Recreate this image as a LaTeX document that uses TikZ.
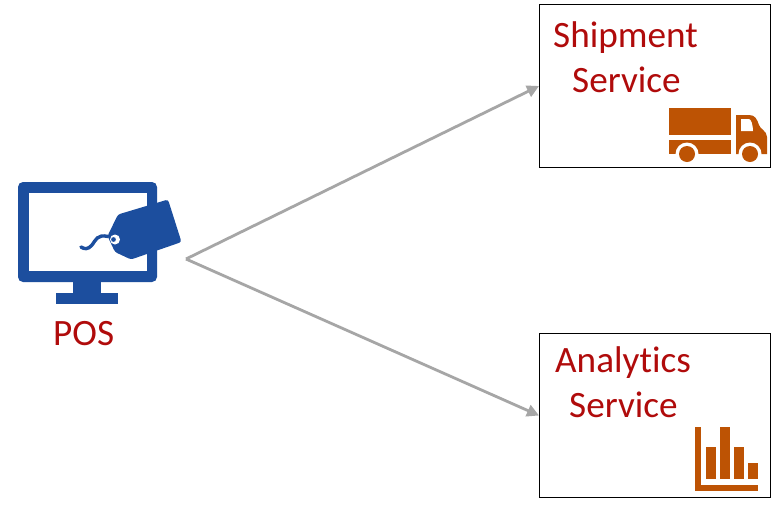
\documentclass[tikz,border=0pt]{standalone}
\usepackage{fontspec}
\setmainfont[Ligatures=NoCommon]{Carlito}
\usetikzlibrary{arrows.meta}
\definecolor{labelred}{HTML}{B00B0B}
\definecolor{posblue}{HTML}{1C4E9E}
\definecolor{iconorange}{HTML}{BD5304}
\definecolor{arrowgray}{HTML}{A6A6A6}
\tikzset{
  servicebox/.style={draw=black,line width=1pt,fill=white,minimum width=231pt,inner sep=0pt,anchor=north west},
  label/.style={text=labelred,font=\fontsize{37.2pt}{37.2pt}\selectfont,anchor=base west,inner sep=0pt},
  flow/.style={draw=arrowgray,line width=2.8pt,-{Triangle[length=12pt,width=12pt]},shorten >=0pt},
  blueshape/.style={fill=posblue,draw=none},
  orangeshape/.style={fill=iconorange,draw=none}
}
\begin{document}
\begin{tikzpicture}[x=1pt,y=-1pt]
\useasboundingbox (0,0) rectangle (771,504);
\fill[white] (0,0) rectangle (771,504);
% boxes
\node[servicebox,minimum height=163pt] (ship) at (539,4) {};
\node[servicebox,minimum height=164pt] (analytics) at (539,333) {};
% arrows
\coordinate (src) at (186,259);
\draw[flow] (src) -- (ship.west);
\draw[flow] (src) -- (analytics.west);
% monitor
\fill[blueshape,rounded corners=5pt] (18,182) rectangle (157,282);
\fill[white] (28.5,193) rectangle (147,271);
\fill[blueshape] (73,282) rectangle (101,293);
\fill[blueshape] (56,293) rectangle (118,304);
% tag
\fill[blueshape,rounded corners=2.5pt] (168,199.5) -- (181.5,242) -- (131,259.5) -- (115,252) -- (107.5,236) -- (118,214.5) -- cycle;
\draw[posblue,line width=3.4pt,line cap=round] (108,236.5) .. controls (97,234) and (96,240) .. (92,245) .. controls (88,250) and (84,249) .. (81,247);
\fill[white,even odd rule] (115,239.5) circle (5pt) (113.5,239.5) circle (2.5pt);
% truck
\fill[orangeshape] (669,108) rectangle (731,135);
\fill[orangeshape] (669,139.5) rectangle (731,154);
\fill[orangeshape] (736,154) -- (736,115) -- (749,115) .. controls (755,115) and (757,119) .. (759,125) .. controls (760,129) and (767,131) .. (767,137) -- (767,154) -- cycle;
\fill[white] (741,119) -- (749,119) .. controls (751,119) and (753,125) .. (753,131) -- (741,131) -- cycle;
\fill[white] (687,154) circle (11.5pt) (750,154) circle (11.5pt);
\fill[orangeshape] (687,154) circle (8pt) (750,154) circle (8pt);
% chart
\fill[orangeshape] (695,427) rectangle (701,491);
\fill[orangeshape] (695,485) rectangle (758,491);
\fill[orangeshape] (706,447) rectangle (716,479);
\fill[orangeshape] (720,427) rectangle (730,479);
\fill[orangeshape] (734,447) rectangle (744,479);
\fill[orangeshape] (748,463) rectangle (758,479);
% labels
\node[label] (shipa) at (553,47) {Shipment};
\node[label] (shipb) at (572,92) {Service};
\node[label] (ana) at (555,372) {Analytics};
\node[label] (anb) at (569,417) {Service};
\node[label] (pos) at (53,345) {POS};
\end{tikzpicture}
\end{document}
